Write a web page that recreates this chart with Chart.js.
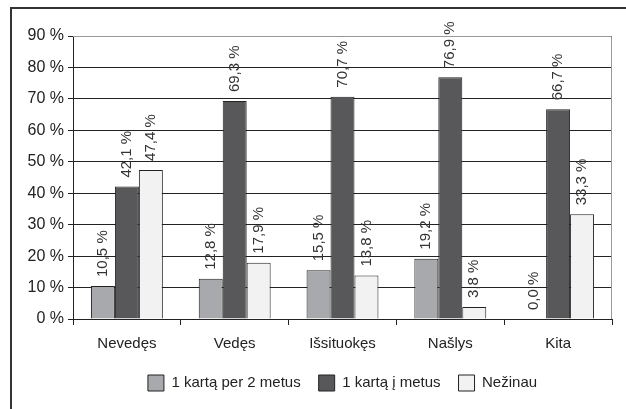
<!DOCTYPE html>
<html>
<head>
<meta charset="utf-8">
<script src="https://cdn.jsdelivr.net/npm/chart.js@4/dist/chart.umd.min.js"></script>
<style>
  html, body { margin: 0; padding: 0; background: #fff; }
  #wrap { position: relative; width: 626px; height: 409px; overflow: hidden; }
  #frame { position: absolute; left: 10px; top: 7px; width: 700px; height: 500px; border-left: 2px solid #333; border-top: 2px solid #333; }
  #chart { position: absolute; left: 0; top: 0; }
</style>
</head>
<body>
<div id="wrap">
  <div id="frame"></div>
  <canvas id="chart" width="626" height="409"></canvas>
</div>
<script>
  const categories = ['Nevedęs', 'Vedęs', 'Išsituokęs', 'Našlys', 'Kita'];
  const seriesNames = ['1 kartą per 2 metus', '1 kartą į metus', 'Nežinau'];
  const perTwoYears = [10.5, 12.8, 15.5, 19.2, 0.0];
  const perYear = [42.1, 69.3, 70.7, 76.9, 66.7];
  const dontKnow = [47.4, 17.9, 13.8, 3.8, 33.3];
  const yTicks = [0, 10, 20, 30, 40, 50, 60, 70, 80, 90];

  const fontFamily = '"Liberation Sans", Arial, sans-serif';

  function fmt(v) {
    return v.toFixed(1).replace('.', ',') + ' %';
  }

  // rotated value labels above each bar
  const valueLabels = {
    id: 'valueLabels',
    afterDatasetsDraw(chart) {
      const ctx = chart.ctx;
      ctx.save();
      ctx.font = '15px ' + fontFamily;
      ctx.fillStyle = '#333';
      ctx.textAlign = 'left';
      ctx.textBaseline = 'middle';
      chart.data.datasets.forEach(function(ds, i) {
        const meta = chart.getDatasetMeta(i);
        meta.data.forEach(function(bar, j) {
          ctx.save();
          ctx.translate(bar.x, bar.y - 9);
          ctx.rotate(-Math.PI / 2);
          ctx.fillText(fmt(ds.data[j]), 0, 0);
          ctx.restore();
        });
      });
      ctx.restore();
    }
  };

  // grey border on top and right of plot area
  const plotBorder = {
    id: 'plotBorder',
    afterDraw(chart) {
      const a = chart.chartArea;
      const ctx = chart.ctx;
      ctx.save();
      ctx.strokeStyle = '#999';
      ctx.lineWidth = 1;
      ctx.beginPath();
      ctx.moveTo(a.left, a.top + 0.5);
      ctx.lineTo(a.right - 0.5, a.top + 0.5);
      ctx.lineTo(a.right - 0.5, a.bottom);
      ctx.stroke();
      ctx.restore();
    }
  };

  // centre the legend under the plot area instead of the whole canvas
  const legendUnderPlot = {
    id: 'legendUnderPlot',
    afterLayout(chart) {
      if (!chart.legend) return;
      chart.legend.left = chart.chartArea.left;
      chart.legend.right = chart.chartArea.right;
    }
  };

  new Chart(document.getElementById('chart'), {
    type: 'bar',
    data: {
      labels: categories,
      datasets: [
        { label: seriesNames[0], data: perTwoYears, backgroundColor: '#a7a9ac', borderColor: '#222', borderWidth: 1 },
        { label: seriesNames[1], data: perYear, backgroundColor: '#58585a', borderColor: '#222', borderWidth: 1 },
        { label: seriesNames[2], data: dontKnow, backgroundColor: '#f2f2f2', borderColor: '#222', borderWidth: 1 }
      ]
    },
    options: {
      responsive: false,
      animation: false,
      devicePixelRatio: 1,
      layout: { padding: { left: 0, right: 14, top: 36, bottom: 8 } },
      datasets: { bar: { barPercentage: 1, categoryPercentage: 0.667 } },
      plugins: {
        legend: {
          position: 'bottom',
          labels: {
            boxWidth: 16,
            boxHeight: 16,
            padding: 18,
            color: '#222',
            font: { family: fontFamily, size: 15 }
          }
        },
        tooltip: { enabled: false }
      },
      scales: {
        x: {
          grid: { offset: true, drawOnChartArea: false, color: '#222', tickLength: 6 },
          border: { color: '#222' },
          ticks: { color: '#222', padding: 10, font: { family: fontFamily, size: 15 } },
          afterFit: function(scale) { scale.height = 38; }
        },
        y: {
          min: 0,
          max: 90,
          afterBuildTicks: function(scale) {
            scale.ticks = yTicks.map(function(v) { return { value: v }; });
          },
          grid: { color: '#222', tickLength: 5 },
          border: { color: '#222' },
          ticks: {
            color: '#222',
            padding: 4,
            font: { family: fontFamily, size: 16 },
            callback: function(v) { return v + ' %'; }
          },
          afterFit: function(scale) { scale.width = 73; }
        }
      }
    },
    plugins: [valueLabels, plotBorder, legendUnderPlot]
  });
</script>
</body>
</html>
